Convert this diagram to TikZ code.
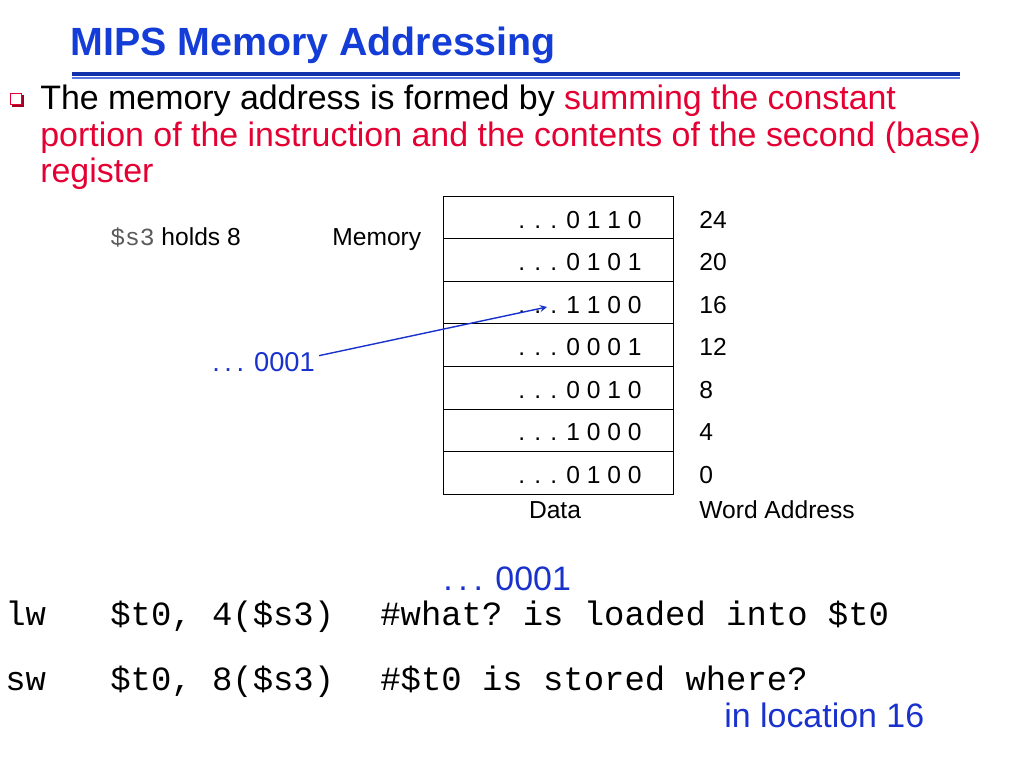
\documentclass[tikz,border=0pt]{standalone}
\usepackage{fontspec}
\setmainfont{Liberation Sans}
\setmonofont{Liberation Mono}
\definecolor{titleblue}{RGB}{20,60,215}
\definecolor{noteblue}{RGB}{25,50,205}
\definecolor{hotred}{RGB}{228,0,50}
\definecolor{regray}{RGB}{90,90,90}
\tikzset{
 txt/.style={anchor=base west,inner sep=0pt},
 cell/.style={anchor=base,inner sep=0pt,font=\fontsize{14}{16}\selectfont},
 code/.style={txt,font=\ttfamily\fontsize{19.3}{22}\selectfont},
}
\begin{document}
\begin{tikzpicture}[x=0.02cm,y=-0.02cm]
 \useasboundingbox (0,0) rectangle (1024,768);
 % titel
 \node[txt,font=\bfseries\fontsize{22.4}{26}\selectfont,text=titleblue] (title) at (70,55) {MIPS Memory Addressing};
 \draw[titleblue!80!black,line width=2.2pt] (72,74)--(960,74);
 \draw[titleblue!70,line width=1pt] (72,78)--(960,78);
 % punkt
 \fill[hotred!70!black] (12,95) rectangle (24,107);
 \fill[white] (10.5,93.5) rectangle (21.5,104.5);
 \draw[hotred,line width=0.9pt] (10.5,93.5) rectangle (21.5,104.5);
 \path[font=\fontsize{19.3}{22}\selectfont]
 (40,109) node[txt] (l1) {The memory address is formed by \textcolor{hotred}{summing the constant}}
 (40,146) node[txt,text=hotred] (l2) {portion of the instruction and the contents of the second (base)}
 (40,182) node[txt,text=hotred] (l3) {register};
 % speicher
 \draw (443,196) rectangle (673,494);
 \foreach \i in {1,...,6}
 \draw (443,196+\i*42.57)--(673,196+\i*42.57);
 \foreach \v/\a [count=\k from 0] in {0 1 1 0/24,0 1 0 1/20,1 1 0 0/16,0 0 0 1/12,0 0 1 0/8,1 0 0 0/4,0 1 0 0/0}{
 \node[cell] (m\k) at (580,228+\k*42.57) {. . . \v};
 \node[cell,anchor=base west] (w\k) at (699,228+\k*42.57) {\a};
 }
 \node[cell] (data) at (555,518) {Data};
 \node[cell,anchor=base west] (word) at (699,518) {Word Address};
 \node[cell,anchor=base west] (mem) at (332,245) {Memory};
 \node[cell,anchor=base west] (s3) at (110,245) {\textcolor{regray}{\ttfamily\$s3} holds 8};
 \node[cell,anchor=base west,text=noteblue,font=\fontsize{15.5}{18}\selectfont] (addr) at (212,371) {.\,.\,. 0001};
 \coordinate (tip) at (547,307);
 \draw[-stealth,noteblue,line width=0.8pt] (addr.east)++(4,-6)--(tip);
 % befehle
 \node[txt,text=noteblue,font=\fontsize{19.3}{22}\selectfont] (val) at (443,590) {.\,.\,. 0001};
 \node[code] (lw) at (5,625) {lw};
 \node[code] (lwa) at (110,625) {\$t0, 4(\$s3)};
 \node[code] (lwc) at (380,625) {\#what? is loaded into \$t0};
 \node[code] (sw) at (5,690) {sw};
 \node[code] (swa) at (110,690) {\$t0, 8(\$s3)};
 \node[code] (swc) at (380,690) {\#\$t0 is stored where?};
 \node[txt,text=noteblue,font=\fontsize{19.3}{22}\selectfont] (loc) at (724,727) {in location 16};
\end{tikzpicture}
\end{document}
